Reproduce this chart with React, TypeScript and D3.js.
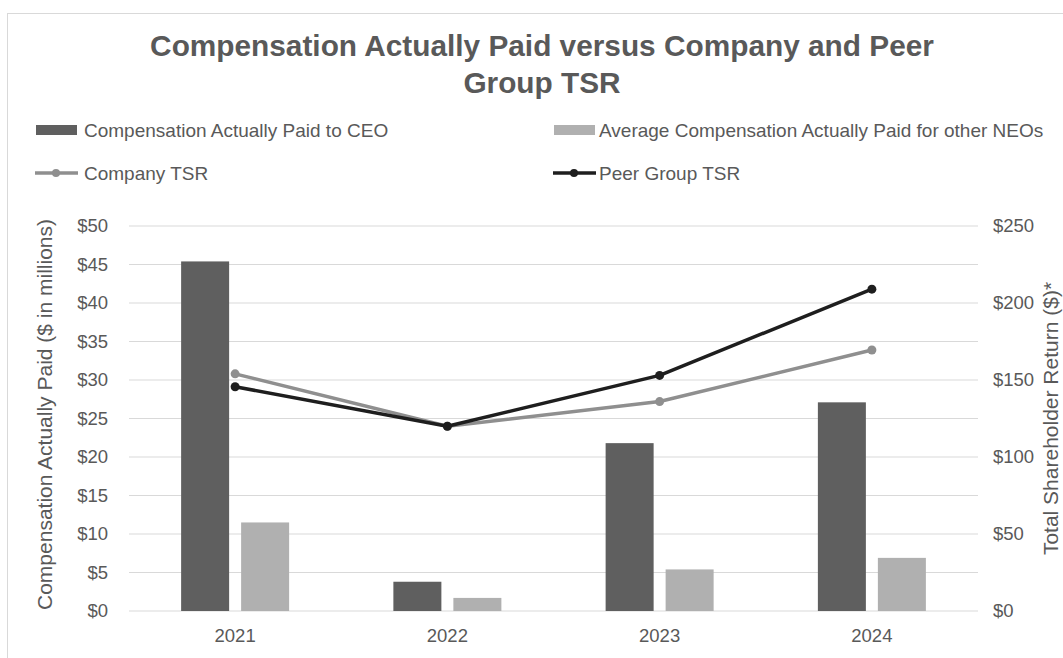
import { useMemo } from 'react';
import * as d3 from 'd3';

const W = 1063;
const H = 658;

const years = ['2021', '2022', '2023', '2024'];
const ceoPaid = [45.4, 3.8, 21.8, 27.1];
const neoPaid = [11.5, 1.7, 5.4, 6.9];
const companyTsr = [154, 120, 136, 169.5];
const peerTsr = [145.6, 120, 153, 209];
const leftTicks = [0, 5, 10, 15, 20, 25, 30, 35, 40, 45, 50];
const rightTicks = [0, 50, 100, 150, 200, 250];

const TEXT = '#595959';
const GRID = '#d9d9d9';
const DARK = '#5f5f5f';
const LIGHT = '#b0b0b0';
const CO = '#8f8f8f';
const PEER = '#1e1e1e';
const FONT = 'Liberation Sans, Arial, sans-serif';

export default function App() {
  const margin = { top: 226, right: 85, bottom: 47, left: 129 };
  const boundsWidth = W - margin.left - margin.right;
  const boundsHeight = H - margin.top - margin.bottom;

  const x = useMemo(
    () => d3.scaleBand().domain(years).range([0, boundsWidth]),
    [boundsWidth]
  );
  const yLeft = d3.scaleLinear().domain([0, 50]).range([boundsHeight, 0]);
  const yRight = d3.scaleLinear().domain([0, 250]).range([boundsHeight, 0]);

  const barW = 48;
  const gap = 12;
  const cx = (y: string) => (x(y) ?? 0) + x.bandwidth() / 2;

  const line = (vals: number[]) =>
    d3
      .line<number>()
      .x((_, i) => cx(years[i]))
      .y((d) => yRight(d))(vals) ?? '';

  return (
    <svg
      width={W}
      height={H}
      style={{ position: 'absolute', left: 0, top: 0, background: '#fff' }}
      fontFamily={FONT}
    >
      <rect x={7.5} y={13.5} width={W + 20} height={H + 20} fill="#fff" stroke={GRID} />

      <text x={542} y={56} textAnchor="middle" fontSize={29.8} fontWeight="bold" fill={TEXT}>
        Compensation Actually Paid versus Company  and Peer
      </text>
      <text x={542} y={93} textAnchor="middle" fontSize={29.8} fontWeight="bold" fill={TEXT}>
        Group TSR
      </text>

      {/* legend */}
      <g fontSize={19} fill={TEXT}>
        <rect x={36} y={125} width={41} height={10} fill={DARK} />
        <text x={84} y={137}>Compensation Actually Paid to CEO</text>
        <rect x={554} y={125} width={41} height={10} fill={LIGHT} />
        <text x={599} y={137}>Average Compensation Actually Paid for other NEOs</text>

        <line x1={35} x2={78} y1={173} y2={173} stroke={CO} strokeWidth={3.5} />
        <circle cx={56} cy={173} r={4} fill={CO} />
        <text x={84} y={180}>Company TSR</text>
        <line x1={553} x2={596} y1={173} y2={173} stroke={PEER} strokeWidth={3.5} />
        <circle cx={574} cy={173} r={4} fill={PEER} />
        <text x={599} y={180}>Peer Group TSR</text>
      </g>

      <g transform={`translate(${margin.left},${margin.top})`}>
        {leftTicks.map((t) => (
          <line key={t} x1={0} x2={boundsWidth} y1={yLeft(t)} y2={yLeft(t)} stroke={GRID} strokeWidth={1} />
        ))}

        {years.map((yr, i) => (
          <g key={yr}>
            <rect
              x={cx(yr) - gap / 2 - barW}
              y={yLeft(ceoPaid[i])}
              width={barW}
              height={boundsHeight - yLeft(ceoPaid[i])}
              fill={DARK}
            />
            <rect
              x={cx(yr) + gap / 2}
              y={yLeft(neoPaid[i])}
              width={barW}
              height={boundsHeight - yLeft(neoPaid[i])}
              fill={LIGHT}
            />
            <text x={cx(yr)} y={boundsHeight + 31} textAnchor="middle" fontSize={18.5} fill={TEXT}>
              {yr}
            </text>
          </g>
        ))}

        <path d={line(companyTsr)} fill="none" stroke={CO} strokeWidth={3.5} strokeLinejoin="round" />
        {companyTsr.map((v, i) => (
          <circle key={'c' + i} cx={cx(years[i])} cy={yRight(v)} r={4.5} fill={CO} />
        ))}
        <path d={line(peerTsr)} fill="none" stroke={PEER} strokeWidth={3.5} strokeLinejoin="round" />
        {peerTsr.map((v, i) => (
          <circle key={'p' + i} cx={cx(years[i])} cy={yRight(v)} r={4.5} fill={PEER} />
        ))}

        {leftTicks.map((t) => (
          <text key={t} x={-21} y={yLeft(t)} dy="0.35em" textAnchor="end" fontSize={18.5} fill={TEXT}>
            {`$${t}`}
          </text>
        ))}
        {rightTicks.map((t) => (
          <text key={t} x={boundsWidth + 15} y={yRight(t)} dy="0.35em" textAnchor="start" fontSize={18.5} fill={TEXT}>
            {`$${t}`}
          </text>
        ))}

        <text
          transform={`translate(${-77},${boundsHeight / 2 - 4}) rotate(-90)`}
          textAnchor="middle"
          fontSize={21}
          fill={TEXT}
        >
          Compensation  Actually Paid ($ in millions)
        </text>
        <text
          transform={`translate(${boundsWidth + 80},${boundsHeight / 2}) rotate(-90)`}
          textAnchor="middle"
          fontSize={21}
          fill={TEXT}
        >
          Total  Shareholder  Return  ($)*
        </text>
      </g>
    </svg>
  );
}
